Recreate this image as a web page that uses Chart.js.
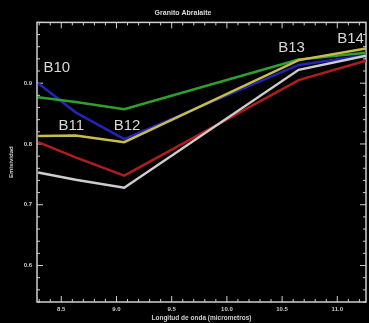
<!DOCTYPE html>
<html>
<head>
<meta charset="utf-8">
<script src="https://cdn.jsdelivr.net/npm/chart.js@4"></script>
<style>
  html, body { margin: 0; padding: 0; background: #000; }
  canvas { display: block; }
</style>
</head>
<body>
<canvas id="chart" width="369" height="323"></canvas>
<script>
// Wavelengths of ASTER TIR bands (micrometres)
const bands = ['B10', 'B11', 'B12', 'B13', 'B14'];
const wavelengths = [8.29, 8.63, 9.07, 10.65, 11.26];

// Emissivity curves
const blueSeries   = [0.900, 0.852, 0.808, 0.930, 0.946];
const greenSeries  = [0.877, 0.869, 0.857, 0.939, 0.950];
const yellowSeries = [0.813, 0.814, 0.803, 0.938, 0.957];
const redSeries    = [0.803, 0.778, 0.748, 0.905, 0.937];
const whiteSeries  = [0.753, 0.741, 0.728, 0.922, 0.945];

const xTicks = [8.5, 9.0, 9.5, 10.0, 10.5, 11.0];
const yTicks = [0.6, 0.7, 0.8, 0.9];

// band label anchors (wavelength, emissivity)
const labelX = [8.46, 8.59, 9.095, 10.585, 11.12];
const labelY = [0.926, 0.829, 0.829, 0.958, 0.973];

const axisColor = '#cfcfcf';
const font = '"Liberation Sans", Arial, sans-serif';

function points(ys) {
    return wavelengths.map((x, i) => ({ x: x, y: ys[i] }));
}

function line(data, color) {
    return {
        data: points(data),
        borderColor: color,
        borderWidth: 2.5,
        pointRadius: 0,
        tension: 0,
        fill: false
    };
}

// IDL style box with inward ticks on all four sides
const boxTicks = {
    id: 'boxTicks',
    beforeDatasetsDraw(chart) {
        const { ctx, chartArea: a, scales: { x, y } } = chart;
        ctx.save();
        ctx.strokeStyle = axisColor;
        ctx.lineWidth = 1.5;
        ctx.strokeRect(a.left, a.top, a.right - a.left, a.bottom - a.top);
        ctx.lineWidth = 1;
        ctx.beginPath();
        for (let v = 8.3; v <= x.max + 1e-9; v += 0.1) {
            const px = x.getPixelForValue(v);
            const major = Math.abs(v * 2 - Math.round(v * 2)) < 1e-6;
            const len = major ? 6 : 3;
            ctx.moveTo(px, a.bottom); ctx.lineTo(px, a.bottom - len);
            ctx.moveTo(px, a.top); ctx.lineTo(px, a.top + len);
        }
        for (let v = 0.54; v <= y.max + 1e-9; v += 0.02) {
            const py = y.getPixelForValue(v);
            const major = Math.abs(v * 10 - Math.round(v * 10)) < 1e-6;
            const len = major ? 6 : 3;
            ctx.moveTo(a.left, py); ctx.lineTo(a.left + len, py);
            ctx.moveTo(a.right, py); ctx.lineTo(a.right - len, py);
        }
        ctx.stroke();
        ctx.restore();
    },
    afterDatasetsDraw(chart) {
        const { ctx, scales: { x, y } } = chart;
        ctx.save();
        ctx.fillStyle = '#d8d8d8';
        ctx.font = '15px ' + font;
        ctx.textAlign = 'center';
        ctx.textBaseline = 'middle';
        bands.forEach((b, i) => {
            ctx.fillText(b, x.getPixelForValue(labelX[i]), y.getPixelForValue(labelY[i]));
        });
        ctx.restore();
    }
};

const ctx = document.getElementById('chart').getContext('2d');
new Chart(ctx, {
    type: 'line',
    data: {
        datasets: [
            line(whiteSeries, '#cdcdcd'),
            line(redSeries, '#b21c1c'),
            line(yellowSeries, '#c9bd4a'),
            line(greenSeries, '#2fa02f'),
            line(blueSeries, '#2424b4')
        ]
    },
    options: {
        responsive: false,
        animation: false,
        layout: { padding: { left: 0, right: 3, top: 0, bottom: 0 } },
        plugins: {
            legend: { display: false },
            tooltip: { enabled: false },
            title: {
                display: true,
                text: 'Granito Abralaite',
                color: '#dcdcdc',
                font: { size: 7, weight: 'bold', family: font },
                padding: { top: 9, bottom: 5 }
            }
        },
        scales: {
            x: {
                type: 'linear',
                min: 8.28,
                max: 11.26,
                afterBuildTicks: s => { s.ticks = xTicks.map(v => ({ value: v })); },
                afterFit: s => { s.height = 21; },
                grid: { display: false, drawTicks: false, tickLength: 0 },
                border: { display: false },
                ticks: {
                    color: axisColor,
                    padding: 4,
                    maxRotation: 0,
                    font: { size: 6, weight: 'bold', family: font },
                    callback: v => v.toFixed(1)
                },
                title: {
                    display: true,
                    text: 'Longitud de onda (micrometros)',
                    color: axisColor,
                    padding: { top: 1, bottom: 1 },
                    font: { size: 6.5, weight: 'bold', family: font }
                }
            },
            y: {
                min: 0.54,
                max: 1.0,
                afterBuildTicks: s => { s.ticks = yTicks.map(v => ({ value: v })); },
                afterFit: s => { s.width = 37; },
                grid: { display: false, drawTicks: false, tickLength: 0 },
                border: { display: false },
                ticks: {
                    color: axisColor,
                    padding: 5,
                    font: { size: 6, weight: 'bold', family: font },
                    callback: v => v.toFixed(1)
                },
                title: {
                    display: true,
                    text: 'Emisividad',
                    color: axisColor,
                    padding: { top: 8, bottom: 0 },
                    font: { size: 6, weight: 'bold', family: font }
                }
            }
        }
    },
    plugins: [boxTicks]
});
</script>
</body>
</html>
